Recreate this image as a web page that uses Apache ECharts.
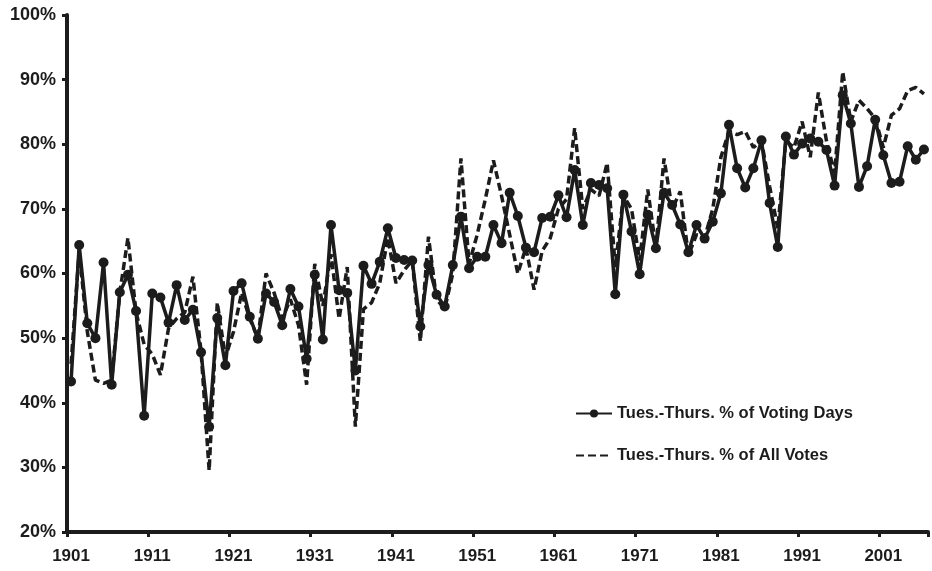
<!DOCTYPE html>
<html>
<head>
<meta charset="utf-8">
<script src="https://cdn.jsdelivr.net/npm/echarts@6/dist/echarts.min.js"></script>
<style>
  html, body { margin: 0; padding: 0; background: #fff; }
  #chart { width: 932px; height: 571px; }
</style>
</head>
<body>
<div id="chart"></div>
<script>
// Congressional sessions, one per year
const years = [];
for (let y = 1901; y <= 2006; y++) years.push(String(y));

// Share of voting days that fell on Tuesday-Thursday (%)
const votingDays = [
  43.3, 64.4, 52.3, 50.0, 61.7, 42.8, 57.1, 59.8, 54.2, 38.0,
  56.9, 56.3, 52.4, 58.2, 52.8, 54.4, 47.8, 36.3, 53.1, 45.8,
  57.3, 58.5, 53.3, 49.9, 56.9, 55.6, 52.0, 57.6, 54.9, 46.8,
  59.8, 49.8, 67.5, 57.4, 57.0, 45.0, 61.2, 58.4, 61.8, 67.0,
  62.4, 62.1, 62.0, 51.8, 61.3, 56.7, 54.9, 61.3, 68.8, 60.8,
  62.6, 62.6, 67.5, 64.7, 72.5, 68.9, 64.0, 63.3, 68.6, 68.8,
  72.1, 68.7, 76.0, 67.5, 74.0, 73.7, 73.2, 56.8, 72.2, 66.5,
  59.9, 69.1, 63.9, 72.5, 70.6, 67.6, 63.3, 67.5, 65.4, 68.0,
  72.4, 83.0, 76.3, 73.3, 76.3, 80.6, 70.9, 64.1, 81.2, 78.4,
  80.1, 80.9, 80.4, 79.1, 73.6, 87.6, 83.2, 73.4, 76.6, 83.8,
  78.3, 74.0, 74.2, 79.7, 77.6, 79.2
];

// Share of all roll-call votes cast Tuesday-Thursday (%)
const allVotes = [
  46.0, 63.5, 51.0, 43.5, 43.0, 43.5, 57.0, 65.5, 54.0, 49.0,
  47.5, 44.3, 51.5, 53.0, 54.0, 59.5, 48.0, 29.5, 55.5, 47.0,
  51.0, 57.0, 53.0, 50.0, 60.0, 57.0, 53.0, 56.0, 52.0, 42.8,
  61.5, 55.0, 63.0, 53.0, 61.0, 36.3, 54.5, 55.5, 58.5, 65.5,
  58.5, 60.5, 62.0, 49.5, 65.7, 56.0, 54.5, 60.0, 77.8, 61.5,
  66.0, 71.5, 77.5, 72.0, 66.0, 60.0, 64.0, 57.5, 63.5, 65.5,
  70.0, 71.5, 82.5, 70.0, 73.0, 72.0, 77.1, 61.0, 72.0, 70.0,
  62.0, 73.0, 64.0, 77.8, 70.0, 72.7, 62.8, 66.0, 65.5, 70.0,
  78.0, 82.0, 81.5, 82.0, 79.5, 80.5, 73.5, 67.0, 80.5, 79.5,
  83.5, 78.0, 88.0, 80.5, 75.5, 91.2, 83.5, 86.8, 85.5, 84.0,
  79.5, 84.5, 85.5, 88.3, 88.8, 87.8
];

const yTicks = { min: 20, max: 100, step: 10 };
const seriesNames = ['Tues.-Thurs. % of Voting Days', 'Tues.-Thurs. % of All Votes'];

const ink = '#1c1c1c';
const fontBase = { color: ink, fontFamily: 'Liberation Sans, Arial, sans-serif', fontWeight: 'bold' };

const chart = echarts.init(document.getElementById('chart'), null, { renderer: 'canvas' });
chart.setOption({
  backgroundColor: '#ffffff',
  animation: false,
  grid: { left: 67, right: 4, top: 15, bottom: 39, containLabel: false },
  legend: {
    orient: 'vertical',
    left: 570,
    top: 400,
    itemWidth: 36,
    itemHeight: 10,
    itemGap: 25,
    textStyle: Object.assign({}, fontBase, { fontSize: 16.5 }),
    data: [
      { name: seriesNames[0] },
      { name: seriesNames[1], itemStyle: { opacity: 0 } }
    ]
  },
  xAxis: {
    type: 'category',
    data: years,
    boundaryGap: true,
    axisLine: { lineStyle: { color: ink, width: 4 } },
    axisTick: { show: true, length: 5, interval: (i) => i % 10 === 0, lineStyle: { color: ink, width: 3 } },
    axisLabel: Object.assign({ interval: (i) => i % 10 === 0, margin: 16, fontSize: 17 }, fontBase),
    splitLine: { show: false }
  },
  yAxis: {
    type: 'value',
    min: yTicks.min,
    max: yTicks.max,
    interval: yTicks.step,
    axisLine: { show: true, lineStyle: { color: ink, width: 4 } },
    axisTick: { show: true, length: 5, lineStyle: { color: ink, width: 3 } },
    axisLabel: Object.assign({ formatter: '{value}%', margin: 11, fontSize: 18 }, fontBase),
    splitLine: { show: false }
  },
  series: [
    {
      name: seriesNames[0],
      type: 'line',
      data: votingDays,
      symbol: 'circle',
      symbolSize: 10,
      showAllSymbol: true,
      itemStyle: { color: ink },
      lineStyle: { color: ink, width: 3.5 },
      z: 3
    },
    {
      name: seriesNames[1],
      type: 'line',
      data: allVotes,
      symbol: 'none',
      itemStyle: { color: ink },
      lineStyle: { color: ink, width: 3.5, type: [8, 4] },
      z: 2
    }
  ]
});
</script>
</body>
</html>
